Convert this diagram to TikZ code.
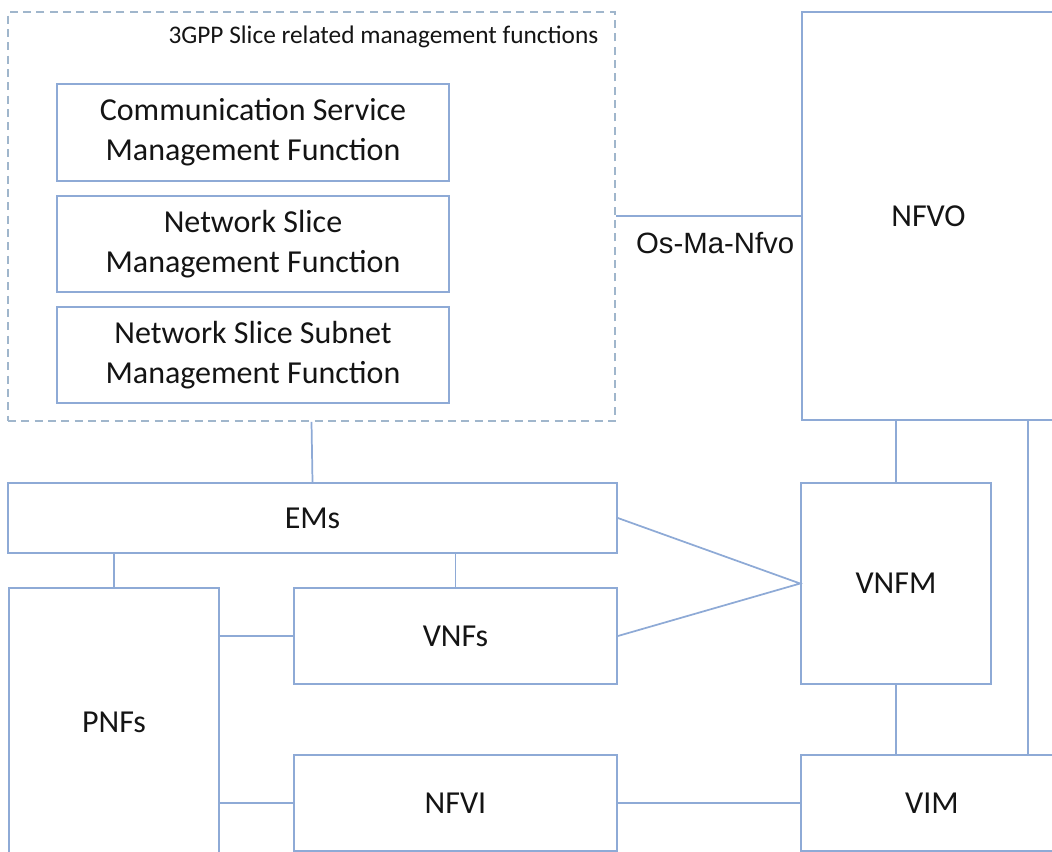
\documentclass[tikz,border=0pt]{standalone}
\usepackage{fontspec}
\setmainfont{Carlito}
\newfontfamily\arialfont{Liberation Sans}
\usetikzlibrary{calc,positioning}
\definecolor{boxline}{RGB}{142,170,214}
\definecolor{dashline}{RGB}{160,182,204}
\definecolor{txtgray}{RGB}{20,20,20}
\tikzset{
  blk/.style={draw=boxline,line width=1.3pt,rectangle,inner sep=0pt,align=center,
              text=txtgray,font=\fontsize{24}{30}\selectfont},
  link/.style={draw=boxline,line width=1.3pt}
}

\begin{document}
\begin{tikzpicture}[x=0.75pt,y=-0.75pt]
                    \clip (0,0) rectangle (1052,851);
                    % 3GPP part
                    \node[draw=dashline,line width=1.2pt,dashed,dash pattern=on 6pt off 4pt,
                          minimum width=455.25pt,minimum height=306.75pt] (slice) at (311.5,216.5) {};
                    \node[anchor=east,text=txtgray,font=\fontsize{19}{22}\selectfont] (slicetitle) at (603,37) {3GPP Slice related management functions};
                    \node[blk,minimum width=294pt,minimum height=72.75pt] (csmf) at (253,132.5) {Communication Service\\Management Function};
                    \node[blk,minimum width=294pt,minimum height=72pt] (nsmf) at (253,244) {Network Slice\\Management Function};
                    \node[blk,minimum width=294pt,minimum height=72pt] (nssmf) at (253,355) {Network Slice Subnet\\Management Function};
                    \node[blk,minimum width=456.75pt,minimum height=52.5pt] (ems) at (312.5,518) {EMs};
                    \node[blk,minimum width=157.5pt,minimum height=201pt] (pnf) at (114,722) {PNFs};
                    \node[blk,minimum width=242.25pt,minimum height=72pt] (vnf) at (455.5,636) {VNFs};
                    \node[blk,minimum width=242.25pt,minimum height=72pt] (nfvi) at (455.5,803) {NFVI};
                    % MANO part
                    \node[blk,minimum width=189.75pt,minimum height=306pt] (nfvo) at (928.5,216) {NFVO};
                    \node[blk,minimum width=142.5pt,minimum height=150.75pt] (vnfm) at (896,583.5) {VNFM};
                    \node[blk,minimum width=196.5pt,minimum height=72pt] (vim) at (932,803) {VIM};
                    \coordinate (vimtap) at (1028,0);
                    % connectors
                    \draw[link] (slice.east |- 0,216) -- (nfvo.west |- 0,216) node[midway,below=8pt,xshift=5pt,text=txtgray,font=\arialfont\fontsize{22}{24}\selectfont] (osmanfvo) {Os-Ma-Nfvo};
                    \draw[link] (slice.south) -- (ems.north);
                    \draw[link] (ems.south -| pnf.north) -- (pnf.north);
                    \draw[link] (ems.south -| vnf.north) -- (vnf.north);
                    \draw[link] (pnf.east |- vnf.west) -- (vnf.west);
                    \draw[link] (pnf.east |- nfvi.west) -- (nfvi.west);
                    \draw[link] (ems.east) -- (vnfm.west) -- (vnf.east);
                    \draw[link] (nfvo.south -| vnfm.north) -- (vnfm.north);
                    \draw[link] (vnfm.south) -- (vnfm.south |- vim.north);
                    \draw[link] (nfvo.south -| vimtap) -- (vim.north -| vimtap);
                    \draw[link] (nfvi.east) -- (vim.west);
                \end{tikzpicture}
\end{document}
